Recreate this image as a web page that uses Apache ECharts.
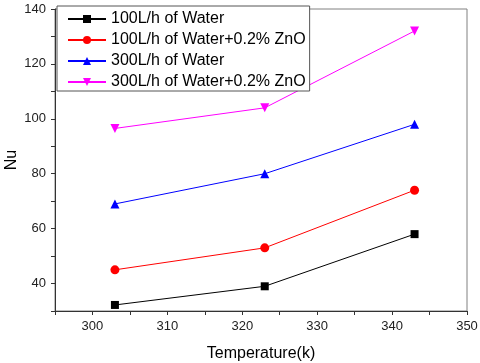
<!DOCTYPE html>
<html>
<head>
<meta charset="utf-8">
<script src="https://cdn.jsdelivr.net/npm/echarts@6/dist/echarts.min.js"></script>
<style>
  html, body { margin: 0; padding: 0; background: #fff; }
  #chart { width: 480px; height: 363px; }
</style>
</head>
<body>
<div id="chart"></div>
<script>
// temperatures (K)
const temps = [303, 323, 343];
// Nusselt numbers per flow case
const water100 = [32.2, 39, 58];
const zno100 = [45, 53, 74];
const water300 = [69, 80, 98];
const zno300 = [96.5, 104, 132];

const seriesNames = ['100L/h of Water', '100L/h of Water+0.2% ZnO', '300L/h of Water', '300L/h of Water+0.2% ZnO'];
const seriesData = [water100, zno100, water300, zno300];
const colors = ['#000000', '#ff0000', '#0000ff', '#ff00ff'];
const symbols = ['rect', 'circle', 'triangle', 'triangle'];
const rotations = [0, 0, 0, 180];

const font = 'Liberation Sans, Arial, sans-serif';

const chart = echarts.init(document.getElementById('chart'));

const series = seriesNames.map((name, i) => ({
    name: name,
    type: 'line',
    data: temps.map((t, j) => [t, seriesData[i][j]]),
    symbol: symbols[i],
    symbolRotate: rotations[i],
    symbolSize: i === 0 ? 8 : 9,
    lineStyle: { color: colors[i], width: 1 },
    itemStyle: { color: colors[i] },
    z: 3
}));

chart.setOption({
    animation: false,
    grid: {
        left: 55, right: 13, top: 9, bottom: 52,
        outerBoundsMode: 'none',
        containLabel: false,
        show: true, borderColor: '#808080', borderWidth: 1
    },
    legend: {
        orient: 'vertical',
        left: 57, top: 6,
        padding: [5, 4, 1, 10],
        itemWidth: 38, itemHeight: 10, itemGap: 5,
        backgroundColor: '#fff',
        borderColor: '#555', borderWidth: 1,
        textStyle: { fontFamily: font, fontSize: 16, color: '#000', lineHeight: 16 },
        data: seriesNames
    },
    xAxis: {
        type: 'value',
        min: 295, max: 350, interval: 5,
        name: 'Temperature(k)',
        nameLocation: 'middle',
        nameGap: 35,
        nameMoveOverlap: false,
        nameTextStyle: { fontFamily: font, fontSize: 16, color: '#000' },
        axisLine: { show: true, onZero: false, lineStyle: { color: '#333' } },
        axisTick: { show: true, length: 4, lineStyle: { color: '#333' } },
        axisLabel: {
            fontFamily: font, fontSize: 13, color: '#222', margin: 9,
            formatter: v => (v % 10 === 0 ? String(v) : '')
        },
        splitLine: { show: false }
    },
    yAxis: {
        type: 'value',
        min: 30, max: 140, interval: 10,
        name: 'Nu',
        nameLocation: 'middle',
        nameGap: 35,
        nameMoveOverlap: false,
        nameTextStyle: { fontFamily: font, fontSize: 16, color: '#000' },
        axisLine: { show: true, onZero: false, lineStyle: { color: '#333' } },
        axisTick: { show: true, length: 4, lineStyle: { color: '#333' } },
        axisLabel: {
            fontFamily: font, fontSize: 13, color: '#222', margin: 9,
            formatter: v => (v % 20 === 0 ? String(v) : '')
        },
        splitLine: { show: false }
    },
    series: series
});
</script>
</body>
</html>
